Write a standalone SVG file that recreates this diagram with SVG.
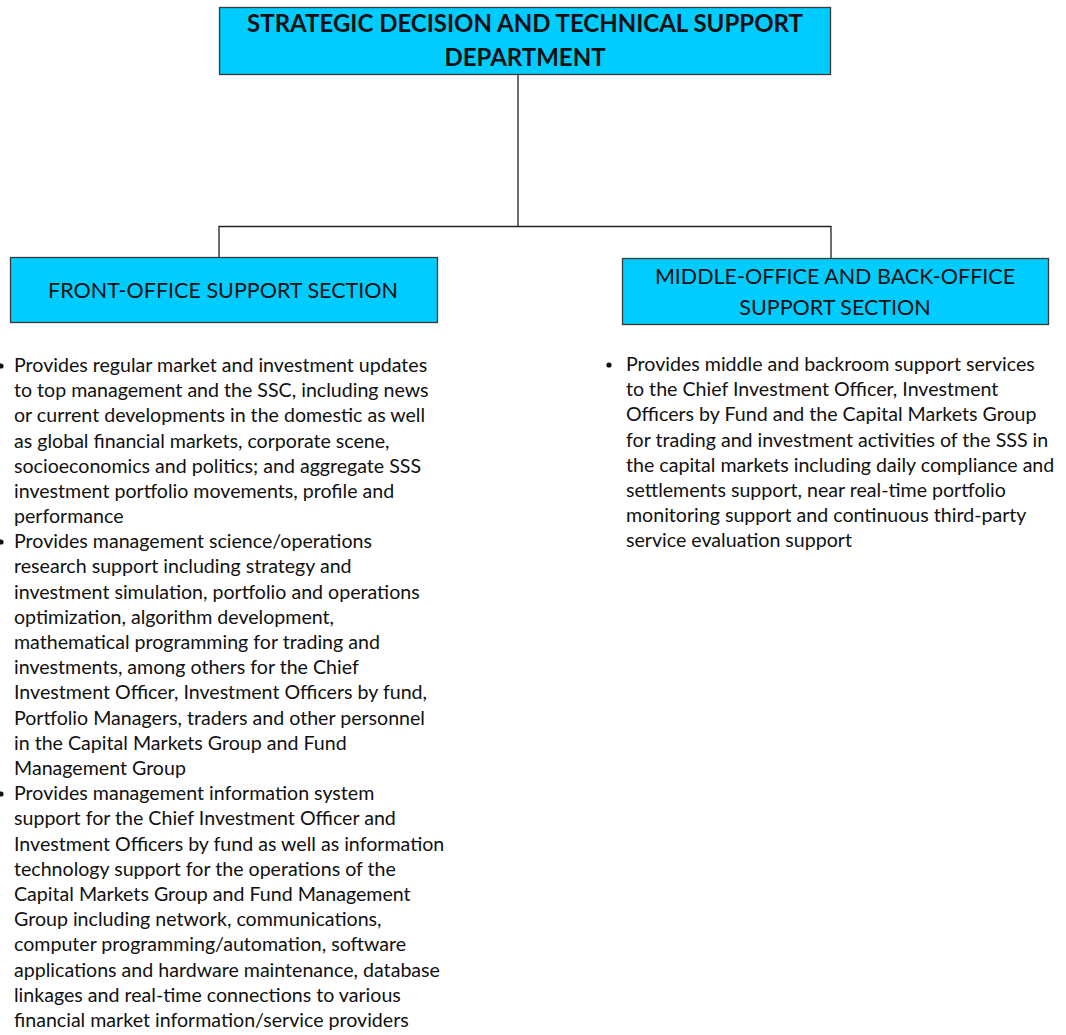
<svg xmlns="http://www.w3.org/2000/svg" width="1066" height="1035" viewBox="0 0 1066 1035">
<style>
.box{fill:#00ccff;stroke:#3a3a3a;stroke-width:1.3}
.conn{fill:none;stroke:#222;stroke-width:1.3}
.t{font-family:Lato,"Open Sans","Liberation Sans",sans-serif;fill:#111}
.h{font-size:24px;font-weight:bold;text-anchor:middle}
.s{font-size:21.5px;text-anchor:middle}
.b{font-size:19.6px}
</style>
<rect width="1066" height="1035" fill="#fff"/>
<g id="connectors">
<path class="conn" d="M518,75 V226.5 M219,257 V226.5 H831 V258"/>
</g>
<g id="dept">
<rect class="box" x="219.5" y="7.5" width="611" height="67"/>
<text class="t h" x="525" y="32">STRATEGIC DECISION AND TECHNICAL SUPPORT</text>
<text class="t h" x="525" y="66">DEPARTMENT</text>
</g>
<g id="front">
<rect class="box" x="10.5" y="257.5" width="427" height="65"/>
<text class="t s" x="223" y="298">FRONT-OFFICE SUPPORT SECTION</text>
</g>
<g id="middle">
<rect class="box" x="622.5" y="258.5" width="426" height="66"/>
<text class="t s" x="835" y="284">MIDDLE-OFFICE AND BACK-OFFICE</text>
<text class="t s" x="835" y="315">SUPPORT SECTION</text>
</g>
<g id="front-text" class="t b">
<circle cx="1" cy="366" r="2.6" fill="#111"/>
<circle cx="1" cy="542" r="2.6" fill="#111"/>
<circle cx="1" cy="794" r="2.6" fill="#111"/>
<text x="14" y="372">Provides regular market and investment updates</text>
<text x="14" y="397">to top management and the SSC, including news</text>
<text x="14" y="422">or current developments in the domestic as well</text>
<text x="14" y="447.5">as global financial markets, corporate scene,</text>
<text x="14" y="472.5">socioeconomics and politics; and aggregate SSS</text>
<text x="14" y="498">investment portfolio movements, profile and</text>
<text x="14" y="523">performance</text>
<text x="14" y="548">Provides management science/operations</text>
<text x="14" y="573">research support including strategy and</text>
<text x="14" y="598.5">investment simulation, portfolio and operations</text>
<text x="14" y="623.5">optimization, algorithm development,</text>
<text x="14" y="649">mathematical programming for trading and</text>
<text x="14" y="674">investments, among others for the Chief</text>
<text x="14" y="699">Investment Officer, Investment Officers by fund,</text>
<text x="14" y="724.5">Portfolio Managers, traders and other personnel</text>
<text x="14" y="749.5">in the Capital Markets Group and Fund</text>
<text x="14" y="775">Management Group</text>
<text x="14" y="800">Provides management information system</text>
<text x="14" y="825">support for the Chief Investment Officer and</text>
<text x="14" y="850.5">Investment Officers by fund as well as information</text>
<text x="14" y="875.5">technology support for the operations of the</text>
<text x="14" y="901">Capital Markets Group and Fund Management</text>
<text x="14" y="926">Group including network, communications,</text>
<text x="14" y="951">computer programming/automation, software</text>
<text x="14" y="976.5">applications and hardware maintenance, database</text>
<text x="14" y="1001.5">linkages and real-time connections to various</text>
<text x="14" y="1027">financial market information/service providers</text>
</g>
<g id="middle-text" class="t b">
<circle cx="609" cy="365" r="2.6" fill="#111"/>
<text x="626" y="371">Provides middle and backroom support services</text>
<text x="626" y="396">to the Chief Investment Officer, Investment</text>
<text x="626" y="421">Officers by Fund and the Capital Markets Group</text>
<text x="626" y="446.5">for trading and investment activities of the SSS in</text>
<text x="626" y="471.5">the capital markets including daily compliance and</text>
<text x="626" y="497">settlements support, near real-time portfolio</text>
<text x="626" y="522">monitoring support and continuous third-party</text>
<text x="626" y="547">service evaluation support</text>
</g>
</svg>
